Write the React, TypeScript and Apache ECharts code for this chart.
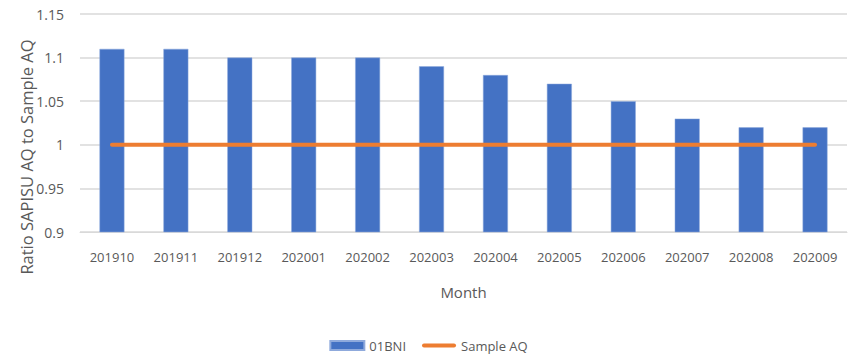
import React, { useEffect, useRef } from "react";
import * as echarts from "echarts";

const months = ["201910", "201911", "201912", "202001", "202002", "202003", "202004", "202005", "202006", "202007", "202008", "202009"];
const bniValues = [1.11, 1.11, 1.1, 1.1, 1.1, 1.09, 1.08, 1.07, 1.05, 1.03, 1.02, 1.02];
const sampleAQ = [1, 1, 1, 1, 1, 1, 1, 1, 1, 1, 1, 1];
const yTickLabels = ["0.9", "0.95", "1", "1.05", "1.1", "1.15"];

const FONT = "'Open Sans', 'Noto Sans', sans-serif";
const GRAY = "#595959";

export default function App() {
  const ref = useRef<HTMLDivElement>(null);
  useEffect(() => {
    if (!ref.current) return;
    const chart = echarts.init(ref.current, null, { renderer: "svg" });
    chart.setOption({
      animation: false,
      backgroundColor: "#ffffff",
      textStyle: { fontFamily: FONT },
      grid: { left: 80, right: 10, top: 14, bottom: 127 },
      legend: {
        bottom: 2,
        left: "center",
        itemGap: 16,
        itemWidth: 34,
        itemHeight: 9,
        symbolKeepAspect: true,
        textStyle: { color: GRAY, fontSize: 13, fontFamily: FONT },
        data: [
          { name: "01BNI", icon: "rect" },
          { name: "Sample AQ", icon: "path://M2,0 L32,0 A2,2 0 0 1 32,4 L2,4 A2,2 0 0 1 2,0 Z", itemStyle: { color: "#ED7D31" } },
        ],
      },
      xAxis: {
        type: "category",
        data: months,
        name: "Month",
        nameLocation: "middle",
        nameGap: 52,
        nameTextStyle: { color: GRAY, fontSize: 15, fontFamily: FONT },
        axisLine: { show: true, lineStyle: { color: "#d9d9d9", width: 1 } },
        axisTick: { show: false },
        axisLabel: { color: GRAY, fontSize: 13, margin: 18, fontFamily: FONT },
      },
      yAxis: {
        type: "value",
        min: 0.9,
        max: 1.15,
        interval: 0.05,
        axisLine: { show: false },
        axisTick: { show: false },
        axisLabel: {
          color: GRAY,
          fontSize: 14,
          margin: 16,
          fontFamily: FONT,
          formatter: (v: number) => {
            const idx = Math.round((v - 0.9) / 0.05);
            return yTickLabels[idx] ?? String(v);
          },
        },
        splitLine: { lineStyle: { color: "#d9d9d9", width: 1.5 } },
      },
      graphic: [
        {
          type: "text",
          x: 26,
          y: 157,
          rotation: Math.PI / 2,
          style: {
            text: "Ratio SAPISU AQ to Sample AQ",
            fill: GRAY,
            font: `16.5px ${FONT}`,
            align: "center",
            verticalAlign: "middle",
          },
        },
      ],
      series: [
        {
          name: "01BNI",
          type: "bar",
          data: bniValues,
          barWidth: "39%",
          itemStyle: { color: "#4472C4", borderColor: "#8faadc", borderWidth: 0.5 },
        },
        {
          name: "Sample AQ",
          type: "line",
          data: sampleAQ,
          symbol: "none",
          lineStyle: { color: "#ED7D31", width: 4, cap: "round" },
          itemStyle: { color: "#ED7D31" },
        },
      ],
    });
    return () => chart.dispose();
  }, []);
  return (
    <div
      ref={ref}
      style={{ position: "fixed", left: 0, top: 0, width: 857, height: 359 }}
    />
  );
}
